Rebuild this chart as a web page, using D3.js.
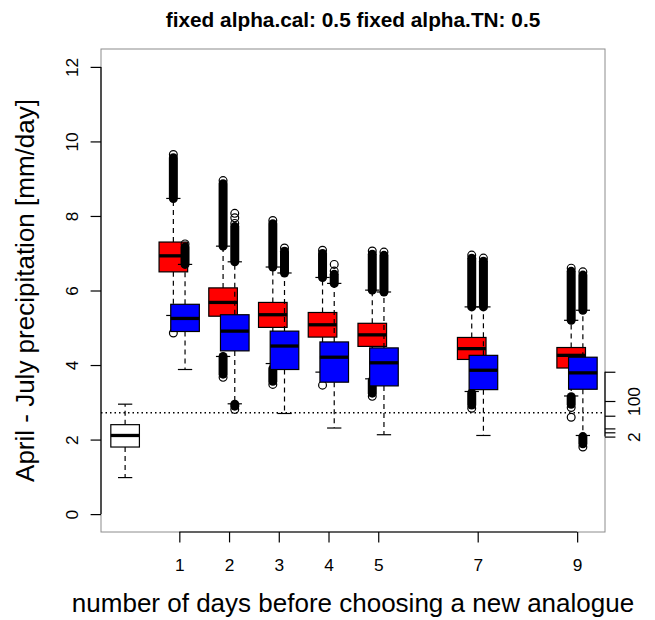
<!DOCTYPE html>
<html>
<head>
<meta charset="utf-8">
<script src="https://cdn.jsdelivr.net/npm/d3@7"></script>
<style>
body { margin: 0; background: #fff; }
text { font-family: "Liberation Sans", Arial, Helvetica, sans-serif; fill: #000; }
</style>
</head>
<body>
<div id="chart"></div>
<script>
//data
var days = [1, 2, 3, 4, 5, 7, 9];

//red boxes (lower whisker, q1, median, q3, upper whisker)
var redLo  = [5.33, 4.23, 4.04, 3.81, 3.63, 3.29, 3.17];
var redQ1  = [6.50, 5.31, 5.01, 4.75, 4.50, 4.15, 3.92];
var redMed = [6.93, 5.68, 5.35, 5.08, 4.81, 4.44, 4.26];
var redQ3  = [7.30, 6.07, 5.68, 5.41, 5.12, 4.74, 4.47];
var redHi  = [8.47, 7.19, 6.63, 6.35, 6.01, 5.56, 5.20];
//outlier runs [from, to]
var redOut = [
    [[8.47, 9.65], [4.86, 4.86]],
    [[7.19, 8.95], [4.23, 3.67]],
    [[6.63, 7.88], [3.90, 3.48]],
    [[6.35, 7.08], [3.46, 3.46]],
    [[6.01, 7.06], [3.58, 3.16]],
    [[5.56, 6.95], [3.25, 2.84]],
    [[5.20, 6.60], [3.15, 2.86], [2.60, 2.60]]
];

//blue boxes
var blueLo  = [3.88, 2.96, 2.70, 2.31, 2.13, 2.11, 2.11];
var blueQ1  = [4.90, 4.38, 3.88, 3.54, 3.44, 3.34, 3.35];
var blueMed = [5.25, 4.91, 4.51, 4.21, 4.06, 3.86, 3.79];
var blueQ3  = [5.63, 5.35, 4.91, 4.62, 4.46, 4.26, 4.21];
var blueHi  = [6.70, 6.77, 6.47, 6.19, 5.96, 5.56, 5.47];
var blueOut = [
    [[6.70, 7.25]],
    [[6.77, 7.80], [7.95, 7.95], [8.07, 8.07], [2.95, 2.81]],
    [[6.47, 7.14]],
    [[6.19, 6.52], [6.70, 6.70]],
    [[5.96, 7.03]],
    [[5.56, 6.87]],
    [[5.47, 6.50], [2.08, 1.80]]
];

//observed box (white)
var obsPos = -0.09;
var obsStats = [0.98, 1.80, 2.11, 2.40, 2.95];

var refLine = 2.72;

//ticks
var yTicks = [0, 2, 4, 6, 8, 10, 12];
var rightTicks = [3.82, 3.035, 2.64, 2.30, 2.195, 2.08];
var rightLabels = ['', '100', '', '', '', '2'];

var titleText = 'fixed alpha.cal: 0.5 fixed alpha.TN: 0.5';
var yLabel = 'April - July precipitation [mm/day]';
var xLabel = 'number of days before choosing a new analogue';

//sizes
var outerW = 655,
    outerH = 620,
    plotL = 101,
    plotR = 605,
    plotT = 49,
    plotB = 532;

var boxUnits = 0.575,
    redShift = -0.12,
    blueShift = 0.115;

//scales
var x = d3.scaleLinear().domain([-0.575, 9.56]).range([plotL, plotR]);
var y = d3.scaleLinear().domain([-0.48, 12.48]).range([plotB, plotT]);
var boxW = x(boxUnits) - x(0);

var svg = d3.select('#chart').append('svg')
    .attr('width', outerW)
    .attr('height', outerH);

//plot frame
svg.append('rect')
    .attr('x', plotL)
    .attr('y', plotT)
    .attr('width', plotR - plotL)
    .attr('height', plotB - plotT)
    .attr('fill', 'none')
    .attr('stroke', '#8c8c8c')
    .attr('stroke-width', 1);

function drawBox(g, pos, lo, q1, med, q3, hi, fill, outs) {
    var cx = x(pos),
        half = boxW / 2,
        cap = boxW / 4;

    //whiskers
    g.append('line')
        .attr('x1', cx).attr('x2', cx)
        .attr('y1', y(q3)).attr('y2', y(hi))
        .attr('stroke', '#000').attr('stroke-width', 1.2)
        .attr('stroke-dasharray', '5,4');
    g.append('line')
        .attr('x1', cx).attr('x2', cx)
        .attr('y1', y(q1)).attr('y2', y(lo))
        .attr('stroke', '#000').attr('stroke-width', 1.2)
        .attr('stroke-dasharray', '5,4');
    [lo, hi].forEach(function(v) {
        g.append('line')
            .attr('x1', cx - cap).attr('x2', cx + cap)
            .attr('y1', y(v)).attr('y2', y(v))
            .attr('stroke', '#000').attr('stroke-width', 1.2);
    });

    g.append('rect')
        .attr('x', cx - half)
        .attr('y', y(q3))
        .attr('width', boxW)
        .attr('height', y(q1) - y(q3))
        .attr('fill', fill)
        .attr('stroke', '#000')
        .attr('stroke-width', 1.2);

    g.append('line')
        .attr('x1', cx - half).attr('x2', cx + half)
        .attr('y1', y(med)).attr('y2', y(med))
        .attr('stroke', '#000').attr('stroke-width', 3.3);

    //outliers: dense runs look like a black column with a ring at the end
    (outs || []).forEach(function(run) {
        var y0 = y(run[0]),
            y1 = y(run[1]);
        if (y0 !== y1) {
            var dir = y1 < y0 ? 1 : -1;
            g.append('line')
                .attr('x1', cx).attr('x2', cx)
                .attr('y1', y0).attr('y2', y1 + dir * 3.2)
                .attr('stroke', '#000')
                .attr('stroke-width', 9)
                .attr('stroke-linecap', 'round');
        }
        g.append('circle')
            .attr('cx', cx)
            .attr('cy', y1)
            .attr('r', 3.9)
            .attr('fill', 'none')
            .attr('stroke', '#000')
            .attr('stroke-width', 1.2);
    });
}

var marks = svg.append('g').attr('class', 'boxes');

drawBox(marks, obsPos, obsStats[0], obsStats[1], obsStats[2], obsStats[3], obsStats[4], '#ffffff', []);

days.forEach(function(d, i) {
    drawBox(marks, d + redShift, redLo[i], redQ1[i], redMed[i], redQ3[i], redHi[i], '#ff0000', redOut[i]);
    drawBox(marks, d + blueShift, blueLo[i], blueQ1[i], blueMed[i], blueQ3[i], blueHi[i], '#0000ff', blueOut[i]);
});

//reference line
svg.append('line')
    .attr('x1', plotL).attr('x2', plotR)
    .attr('y1', y(refLine)).attr('y2', y(refLine))
    .attr('stroke', '#000')
    .attr('stroke-width', 1.3)
    .attr('stroke-dasharray', '1.5,3');

//left axis
var yAxisG = svg.append('g')
    .attr('transform', 'translate(' + plotL + ',0)')
    .call(d3.axisLeft(y).tickValues(yTicks).tickSize(10.4).tickFormat(d3.format('d')));
yAxisG.select('.domain').remove();
yAxisG.append('line')
    .attr('x1', 0).attr('x2', 0)
    .attr('y1', y(yTicks[0])).attr('y2', y(yTicks[yTicks.length - 1]))
    .attr('stroke', '#000').attr('stroke-width', 1.2);
yAxisG.selectAll('.tick line').attr('stroke', '#000').attr('stroke-width', 1.2);
yAxisG.selectAll('.tick text')
    .attr('x', 0).attr('dy', 0)
    .attr('transform', 'translate(-23,0) rotate(-90)')
    .attr('text-anchor', 'middle')
    .style('font-size', '17.3px');

//bottom axis
var xAxisG = svg.append('g')
    .attr('transform', 'translate(0,' + plotB + ')')
    .call(d3.axisBottom(x).tickValues(days).tickSize(10.4).tickFormat(d3.format('d')));
xAxisG.select('.domain').remove();
xAxisG.append('line')
    .attr('x1', x(days[0])).attr('x2', x(days[days.length - 1]))
    .attr('y1', 0).attr('y2', 0)
    .attr('stroke', '#000').attr('stroke-width', 1.2);
xAxisG.selectAll('.tick line').attr('stroke', '#000').attr('stroke-width', 1.2);
xAxisG.selectAll('.tick text')
    .attr('y', 39).attr('dy', 0)
    .style('font-size', '17.3px');

//right axis
var rAxisG = svg.append('g')
    .attr('transform', 'translate(' + plotR + ',0)')
    .call(d3.axisRight(y).tickValues(rightTicks).tickSize(10.4)
        .tickFormat(function(d, i) { return rightLabels[i]; }));
rAxisG.select('.domain').remove();
rAxisG.append('line')
    .attr('x1', 0).attr('x2', 0)
    .attr('y1', y(d3.min(rightTicks))).attr('y2', y(d3.max(rightTicks)))
    .attr('stroke', '#000').attr('stroke-width', 1.2);
rAxisG.selectAll('.tick line').attr('stroke', '#000').attr('stroke-width', 1.2);
rAxisG.selectAll('.tick text')
    .attr('x', 0).attr('dy', 0)
    .attr('transform', 'translate(35,0) rotate(-90)')
    .attr('text-anchor', 'middle')
    .style('font-size', '17.3px');

//titles
svg.append('text')
    .attr('x', (plotL + plotR) / 2)
    .attr('y', 26.5)
    .attr('text-anchor', 'middle')
    .style('font-size', '20.8px')
    .style('font-weight', 'bold')
    .text(titleText);

svg.append('text')
    .attr('transform', 'translate(34,' + (plotT + plotB) / 2 + ') rotate(-90)')
    .attr('text-anchor', 'middle')
    .style('font-size', '26px')
    .text(yLabel);

svg.append('text')
    .attr('x', (plotL + plotR) / 2)
    .attr('y', 612)
    .attr('text-anchor', 'middle')
    .style('font-size', '26px')
    .text(xLabel);
</script>
</body>
</html>
